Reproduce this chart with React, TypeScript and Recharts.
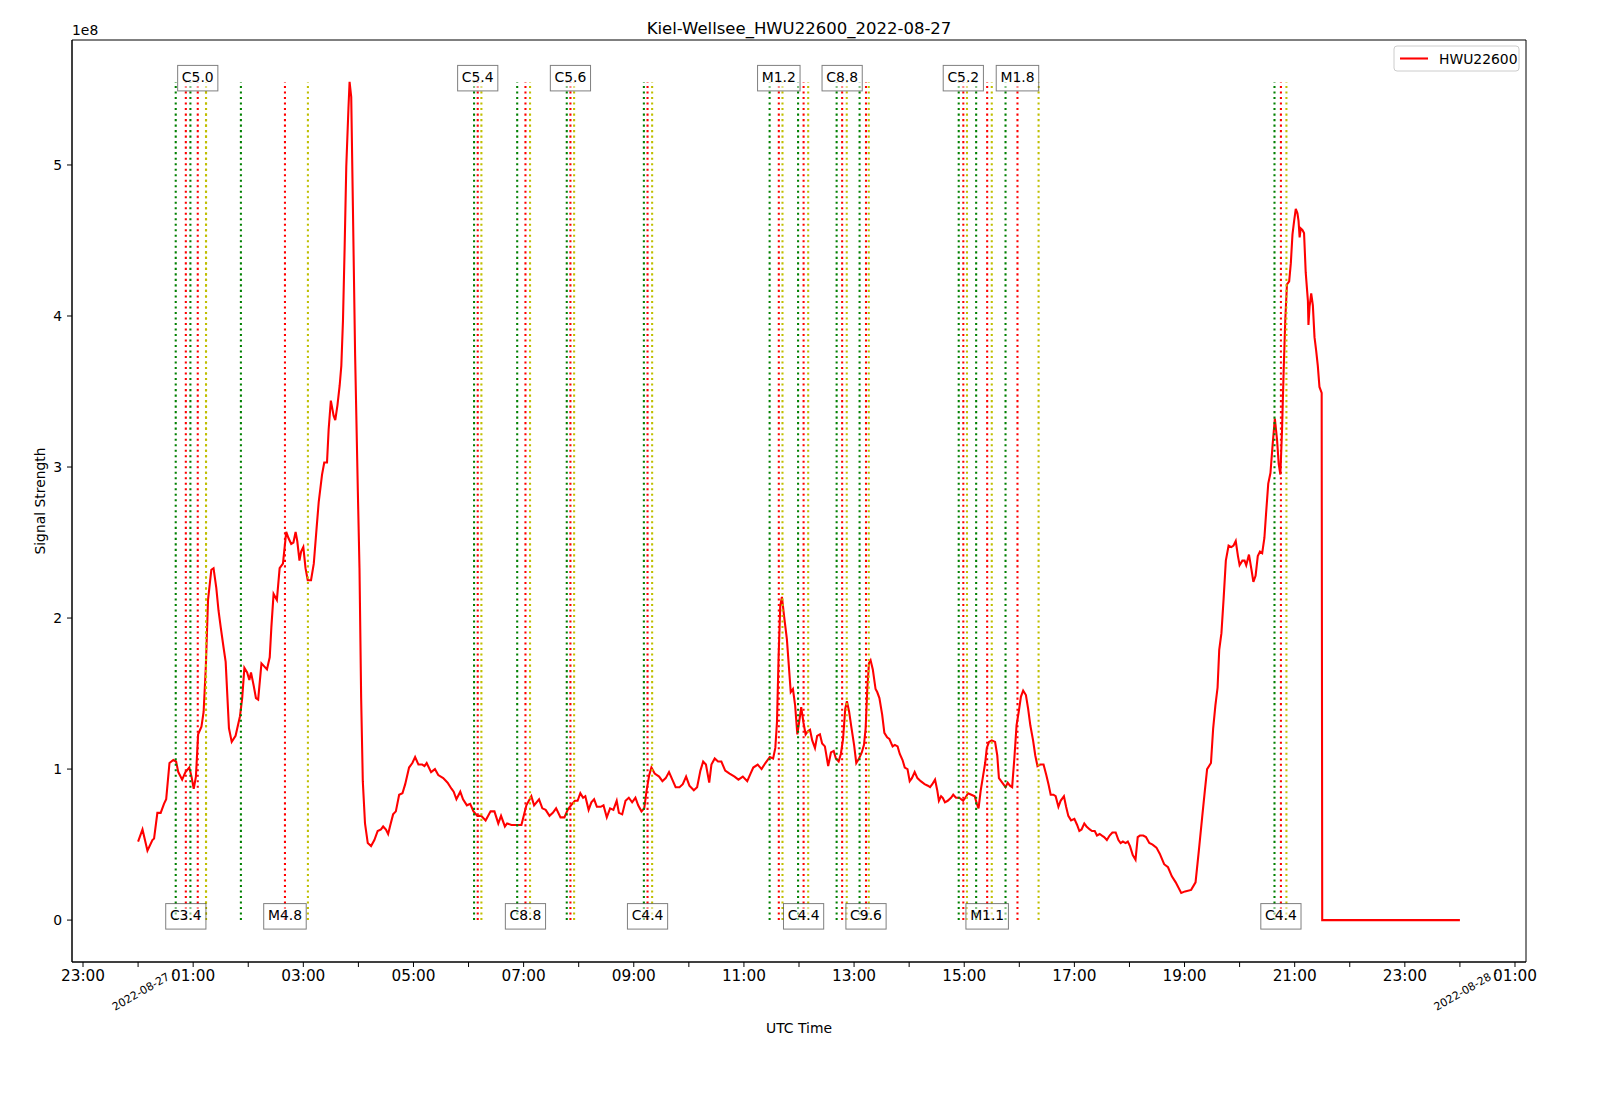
import {
  ComposedChart,
  Line,
  XAxis,
  YAxis,
  ReferenceLine,
  ReferenceDot,
  ReferenceArea,
} from 'recharts';

const FONT = '"DejaVu Sans", sans-serif';

// HWU22600 at Kiel-Wellsee, [hours after 2022-08-27 00:00 UTC, signal in 1e8]
const SIGNAL_NIGHT = [
  [0.0, 0.52], [0.08, 0.6], [0.17, 0.46], [0.26, 0.53], [0.29, 0.54], [0.35, 0.71], [0.41, 0.71],
  [0.47, 0.77], [0.51, 0.8], [0.57, 1.04], [0.64, 1.06], [0.69, 1.05], [0.73, 0.98], [0.8, 0.93],
  [0.86, 0.98], [0.93, 1.01], [0.97, 0.95], [1.01, 0.87], [1.05, 0.95], [1.09, 1.23], [1.15, 1.28],
  [1.19, 1.38], [1.23, 1.68], [1.27, 2.12], [1.33, 2.32], [1.37, 2.33], [1.42, 2.2], [1.46, 2.05],
  [1.5, 1.94], [1.55, 1.81], [1.59, 1.71], [1.65, 1.27], [1.7, 1.18], [1.77, 1.22], [1.85, 1.35],
  [1.89, 1.47], [1.93, 1.67], [1.98, 1.64], [2.02, 1.59], [2.05, 1.64], [2.1, 1.55], [2.14, 1.47],
  [2.18, 1.46], [2.24, 1.7], [2.29, 1.68], [2.34, 1.66], [2.39, 1.74], [2.42, 1.94], [2.46, 2.16],
  [2.52, 2.12], [2.57, 2.33], [2.63, 2.36], [2.65, 2.43], [2.69, 2.57], [2.73, 2.53], [2.78, 2.49],
  [2.82, 2.5], [2.86, 2.57], [2.89, 2.51], [2.93, 2.38], [2.96, 2.44], [3.0, 2.47], [3.04, 2.33],
  [3.08, 2.25], [3.14, 2.25], [3.19, 2.36], [3.24, 2.59], [3.28, 2.77], [3.34, 2.95], [3.38, 3.03],
  [3.43, 3.03], [3.46, 3.25], [3.5, 3.44], [3.55, 3.34], [3.58, 3.31], [3.62, 3.41], [3.66, 3.54],
  [3.69, 3.67], [3.72, 3.97], [3.75, 4.45], [3.78, 4.99], [3.82, 5.38], [3.84, 5.55], [3.87, 5.45],
  [3.9, 4.73], [3.94, 3.75], [3.99, 2.84], [4.02, 2.33], [4.05, 1.47], [4.08, 0.92], [4.12, 0.64],
  [4.17, 0.51], [4.23, 0.49], [4.29, 0.53], [4.35, 0.59], [4.41, 0.6],
];

const SIGNAL_MORNING = [
  [4.45, 0.62], [4.5, 0.6], [4.54, 0.57], [4.58, 0.63], [4.63, 0.7], [4.68, 0.72], [4.74, 0.83],
  [4.8, 0.84], [4.85, 0.9], [4.92, 1.01], [4.98, 1.04], [5.03, 1.08], [5.09, 1.03], [5.16, 1.03],
  [5.2, 1.02], [5.24, 1.04], [5.32, 0.98], [5.39, 1.0], [5.45, 0.96], [5.54, 0.94], [5.62, 0.91],
  [5.69, 0.87], [5.73, 0.85], [5.78, 0.8], [5.85, 0.85], [5.9, 0.8], [5.97, 0.76], [6.03, 0.77],
  [6.09, 0.72], [6.16, 0.69], [6.23, 0.69], [6.31, 0.66], [6.4, 0.72], [6.47, 0.72], [6.54, 0.64],
  [6.59, 0.69], [6.66, 0.62], [6.7, 0.64], [6.78, 0.63], [6.87, 0.63], [6.96, 0.63], [7.05, 0.76],
  [7.14, 0.82], [7.19, 0.76], [7.28, 0.8], [7.34, 0.74], [7.4, 0.73], [7.47, 0.69], [7.53, 0.71],
  [7.59, 0.74], [7.67, 0.68], [7.74, 0.68], [7.8, 0.73], [7.86, 0.76], [7.93, 0.79], [7.98, 0.79],
  [8.03, 0.84], [8.08, 0.81], [8.12, 0.82], [8.18, 0.73], [8.23, 0.78], [8.28, 0.8], [8.33, 0.75],
  [8.4, 0.75], [8.45, 0.76], [8.51, 0.68], [8.57, 0.74], [8.63, 0.73], [8.69, 0.79], [8.73, 0.71],
  [8.79, 0.7], [8.85, 0.79], [8.91, 0.81], [8.97, 0.78], [9.03, 0.81], [9.08, 0.76], [9.14, 0.72],
  [9.19, 0.74], [9.23, 0.85], [9.28, 0.96], [9.32, 1.01], [9.38, 0.97], [9.46, 0.95], [9.52, 0.92],
];

const SIGNAL_MIDDAY = [
  [9.58, 0.94], [9.64, 0.98], [9.7, 0.93], [9.76, 0.88], [9.83, 0.88], [9.89, 0.9], [9.95, 0.95],
  [10.01, 0.89], [10.09, 0.86], [10.15, 0.88], [10.21, 0.99], [10.26, 1.05], [10.31, 1.03],
  [10.37, 0.91], [10.41, 1.03], [10.47, 1.07], [10.53, 1.05], [10.59, 1.05], [10.66, 0.99],
  [10.74, 0.97], [10.83, 0.95], [10.9, 0.93], [10.98, 0.95], [11.06, 0.92], [11.12, 0.97],
  [11.17, 1.01], [11.25, 1.03], [11.32, 1.0], [11.39, 1.04], [11.47, 1.08], [11.53, 1.07],
  [11.57, 1.14], [11.6, 1.31], [11.63, 1.75], [11.66, 2.08], [11.69, 2.14], [11.73, 2.01],
  [11.78, 1.86], [11.82, 1.66], [11.85, 1.51], [11.89, 1.53], [11.93, 1.42], [11.97, 1.23],
  [12.01, 1.33], [12.04, 1.41], [12.08, 1.31], [12.12, 1.23], [12.16, 1.25], [12.2, 1.26],
  [12.24, 1.19], [12.29, 1.14], [12.33, 1.22], [12.38, 1.23], [12.42, 1.17], [12.47, 1.15],
  [12.53, 1.02], [12.58, 1.11], [12.63, 1.12], [12.67, 1.07], [12.72, 1.05], [12.76, 1.1],
  [12.8, 1.2], [12.84, 1.4], [12.87, 1.45], [12.91, 1.38], [12.95, 1.28], [13.0, 1.16],
  [13.04, 1.04], [13.09, 1.07], [13.14, 1.11], [13.18, 1.16], [13.21, 1.27], [13.24, 1.53],
  [13.27, 1.7], [13.3, 1.72], [13.34, 1.66], [13.39, 1.53], [13.42, 1.51], [13.46, 1.47],
  [13.51, 1.36], [13.55, 1.24], [13.6, 1.21], [13.64, 1.2], [13.7, 1.15], [13.74, 1.16],
  [13.79, 1.15], [13.83, 1.1], [13.88, 1.06], [13.92, 1.01], [13.97, 1.0], [14.01, 0.92],
  [14.05, 0.94], [14.1, 0.98], [14.15, 0.94], [14.21, 0.92],
];

const SIGNAL_AFTERNOON = [
  [14.28, 0.9], [14.34, 0.89], [14.38, 0.88], [14.42, 0.9], [14.47, 0.93], [14.51, 0.86],
  [14.54, 0.79], [14.58, 0.82], [14.61, 0.81], [14.65, 0.78], [14.7, 0.79], [14.76, 0.81],
  [14.8, 0.83], [14.85, 0.81], [14.91, 0.81], [14.98, 0.79], [15.02, 0.81], [15.07, 0.84],
  [15.13, 0.83], [15.19, 0.82], [15.23, 0.77], [15.26, 0.74], [15.3, 0.86], [15.34, 0.95],
  [15.38, 1.04], [15.41, 1.14], [15.45, 1.18], [15.5, 1.19], [15.56, 1.18], [15.6, 1.09],
  [15.63, 0.94], [15.67, 0.92], [15.71, 0.9], [15.75, 0.88], [15.79, 0.91], [15.83, 0.89],
  [15.87, 0.88], [15.91, 1.07], [15.95, 1.29], [15.99, 1.38], [16.03, 1.48], [16.07, 1.52],
  [16.12, 1.49], [16.16, 1.4], [16.2, 1.29], [16.25, 1.19], [16.29, 1.09], [16.33, 1.02],
  [16.38, 1.03], [16.44, 1.03], [16.49, 0.96], [16.53, 0.9], [16.57, 0.83], [16.62, 0.83],
  [16.66, 0.82], [16.71, 0.75], [16.75, 0.79], [16.81, 0.82], [16.85, 0.75], [16.89, 0.69],
  [16.94, 0.66], [17.0, 0.67], [17.05, 0.63], [17.09, 0.59], [17.13, 0.6], [17.18, 0.64],
  [17.22, 0.62], [17.28, 0.6], [17.32, 0.59], [17.37, 0.59], [17.41, 0.56], [17.46, 0.57],
  [17.5, 0.56], [17.54, 0.55], [17.59, 0.53], [17.64, 0.56], [17.69, 0.58], [17.75, 0.58],
  [17.8, 0.53], [17.84, 0.51], [17.88, 0.52], [17.93, 0.51], [17.97, 0.52], [18.01, 0.49],
  [18.06, 0.43], [18.11, 0.4], [18.15, 0.55], [18.19, 0.56], [18.25, 0.56], [18.3, 0.55],
  [18.36, 0.51],
];

const SIGNAL_EVENING = [
  [18.42, 0.5], [18.49, 0.48], [18.55, 0.44], [18.63, 0.37], [18.7, 0.35], [18.77, 0.29],
  [18.84, 0.25], [18.94, 0.18], [19.01, 0.19], [19.12, 0.2], [19.2, 0.25], [19.26, 0.46],
  [19.32, 0.68], [19.37, 0.86], [19.41, 1.0], [19.48, 1.04], [19.52, 1.27], [19.56, 1.42],
  [19.6, 1.54], [19.63, 1.79], [19.67, 1.9], [19.71, 2.13], [19.75, 2.38], [19.8, 2.48],
  [19.85, 2.47], [19.89, 2.48], [19.93, 2.51], [19.97, 2.41], [20.0, 2.35], [20.05, 2.38],
  [20.09, 2.38], [20.12, 2.35], [20.17, 2.42], [20.22, 2.31], [20.25, 2.24], [20.29, 2.28],
  [20.33, 2.41], [20.37, 2.44], [20.41, 2.43], [20.45, 2.53], [20.48, 2.69], [20.52, 2.89],
  [20.56, 2.96], [20.6, 3.15], [20.64, 3.32], [20.68, 3.18], [20.71, 3.02], [20.74, 2.95],
  [20.77, 3.24], [20.8, 3.64], [20.83, 3.98], [20.86, 4.21], [20.9, 4.23], [20.93, 4.35],
  [20.96, 4.54], [20.99, 4.63], [21.02, 4.71], [21.05, 4.68], [21.07, 4.63], [21.09, 4.52],
  [21.11, 4.58], [21.14, 4.57], [21.17, 4.55], [21.2, 4.29], [21.24, 4.1], [21.25, 3.94],
  [21.27, 4.06], [21.3, 4.15], [21.33, 4.07], [21.36, 3.86], [21.39, 3.77], [21.42, 3.67],
  [21.45, 3.53], [21.49, 3.49], [21.5, 0.0], [24.0, 0.0],
];

// flare list: class, start / peak / end (UTC)
const FLARE_CLASS = ['C3.4', 'C5.0', 'M4.8', 'C5.4', 'C8.8', 'C5.6', 'C4.4', 'M1.2', 'C4.4', 'C8.8', 'C9.6', 'C5.2', 'M1.1', 'M1.8', 'C4.4'];
const FLARE_START = ['00:41', '00:57', '01:52', '06:06', '06:53', '07:47', '09:11', '11:28', '11:59', '12:41', '13:06', '14:54', '15:13', '15:45', '20:38'];
const FLARE_PEAK = ['00:52', '01:05', '02:40', '06:10', '07:02', '07:51', '09:15', '11:38', '12:05', '12:47', '13:13', '14:59', '15:25', '15:58', '20:45'];
const FLARE_END = ['01:14', '01:14', '03:05', '06:14', '07:07', '07:55', '09:20', '11:42', '12:10', '12:52', '13:16', '15:03', '15:30', '16:21', '20:51'];

const X_TICKS = [-1, 0, 1, 2, 3, 4, 5, 6, 7, 8, 9, 10, 11, 12, 13, 14, 15, 16, 17, 18, 19, 20, 21, 22, 23, 24, 25];
const X_TICK_LABELS = [
  '23:00', '2022-08-27 -', '01:00', '', '03:00', '', '05:00', '', '07:00', '', '09:00', '', '11:00', '',
  '13:00', '', '15:00', '', '17:00', '', '19:00', '', '21:00', '', '23:00', '2022-08-28 -', '01:00',
];
const Y_TICKS = [0, 1, 2, 3, 4, 5];

const toHours = (s: string) => {
  const [h, m] = s.split(':').map(Number);
  return h + m / 60;
};

const data = [...SIGNAL_NIGHT, ...SIGNAL_MORNING, ...SIGNAL_MIDDAY, ...SIGNAL_AFTERNOON, ...SIGNAL_EVENING].map(
  ([h, v]) => ({ h, v })
);
const yMax = Math.max(...data.map((d) => d.v));
const yPad = yMax * 0.05;
const X_DOMAIN = [-1.2, 25.2];

const flares = FLARE_CLASS.map((cls, i) => ({
  cls,
  start: toHours(FLARE_START[i]),
  peak: toHours(FLARE_PEAK[i]),
  end: toHours(FLARE_END[i]),
  top: i % 2 === 1,
}));

// rough DejaVu Sans advance widths (em)
const CHAR_W: Record<string, number> = { C: 0.698, M: 0.863, '.': 0.318 };
const labelWidth = (s: string, size: number) =>
  s.split('').reduce((acc, c) => acc + (CHAR_W[c] ?? 0.636), 0) * size;

function FlareLabel(props: any) {
  const { cx, cy, text } = props;
  const w = labelWidth(text, 13.9) + 8.4;
  return (
    <g>
      <rect
        x={cx - w / 2}
        y={cy - 16.5}
        width={w}
        height={25.5}
        fill="#ffffff"
        fillOpacity={0.5}
        stroke="#000000"
        strokeOpacity={0.5}
        strokeWidth={1}
      />
      <text x={cx} y={cy} textAnchor="middle" fontSize={13.9} fontFamily={FONT} fill="#000">
        {text}
      </text>
    </g>
  );
}

function HourTick(props: any) {
  const { x, y, payload } = props;
  const label = X_TICK_LABELS[X_TICKS.indexOf(payload.value)];
  if (!label) return null;
  if (label.startsWith('2022')) {
    const cx = x + 6;
    const cy = y + 21;
    return (
      <text
        x={cx}
        y={cy}
        textAnchor="middle"
        dominantBaseline="central"
        transform={`rotate(-30 ${cx} ${cy})`}
        fontSize={11}
        fontFamily={FONT}
        fill="#000"
      >
        {label}
      </text>
    );
  }
  return (
    <text x={x} y={y + 12} textAnchor="middle" fontSize={15.3} fontFamily={FONT} fill="#000">
      {label}
    </text>
  );
}

const dash = '2.08 3.43';

export default function App() {
  return (
    <div style={{ position: 'absolute', left: 0, top: 0, width: 1600, height: 1102, background: '#fff' }}>
      <ComposedChart
        width={1600}
        height={1102}
        data={data}
        margin={{ top: 40, right: 74, bottom: 80, left: 12 }}
      >
        <XAxis
          dataKey="h"
          type="number"
          domain={X_DOMAIN}
          ticks={X_TICKS}
          interval={0}
          allowDataOverflow
          height={60}
          tickSize={5}
          tick={<HourTick />}
          axisLine={{ stroke: '#000' }}
          tickLine={{ stroke: '#000' }}
        />
        <YAxis
          type="number"
          domain={[-yPad, yMax + yPad]}
          ticks={Y_TICKS}
          allowDataOverflow
          width={60}
          tickSize={5}
          tickMargin={5}
          tick={{ fill: '#000', fontSize: 13.9, fontFamily: FONT }}
          axisLine={{ stroke: '#000' }}
          tickLine={{ stroke: '#000' }}
        />
        <ReferenceArea
          x1={X_DOMAIN[0]}
          x2={X_DOMAIN[1]}
          y1={-yPad}
          y2={yMax + yPad}
          fill="none"
          fillOpacity={0}
          stroke="#000"
          strokeWidth={1}
          ifOverflow="visible"
        />
        <Line
          dataKey="v"
          type="linear"
          stroke="#ff0000"
          strokeWidth={2.08}
          dot={false}
          isAnimationActive={false}
          name="HWU22600"
        />
        {flares.map((f, i) => (
          <ReferenceLine
            key={`s${i}`}
            segment={[{ x: f.start, y: 0 }, { x: f.start, y: yMax }]}
            stroke="#008000"
            strokeWidth={2.08}
            strokeDasharray={dash}
            ifOverflow="visible"
          />
        ))}
        {flares.map((f, i) => (
          <ReferenceLine
            key={`p${i}`}
            segment={[{ x: f.peak, y: 0 }, { x: f.peak, y: yMax }]}
            stroke="#ff0000"
            strokeWidth={2.08}
            strokeDasharray={dash}
            ifOverflow="visible"
          />
        ))}
        {flares.map((f, i) => (
          <ReferenceLine
            key={`e${i}`}
            segment={[{ x: f.end, y: 0 }, { x: f.end, y: yMax }]}
            stroke="#bfbf00"
            strokeWidth={2.08}
            strokeDasharray={dash}
            ifOverflow="visible"
          />
        ))}
        {flares.map((f, i) => (
          <ReferenceDot
            key={`l${i}`}
            x={f.peak}
            y={f.top ? yMax : 0}
            r={0}
            ifOverflow="visible"
            shape={(p: any) => <FlareLabel {...p} text={f.cls} />}
          />
        ))}
      </ComposedChart>
      <svg
        width={1600}
        height={1102}
        style={{ position: 'absolute', left: 0, top: 0, pointerEvents: 'none' }}
        fontFamily={FONT}
      >
        <text x={799} y={34} textAnchor="middle" fontSize={16.5} fill="#000">
          Kiel-Wellsee_HWU22600_2022-08-27
        </text>
        <text x={72} y={35} fontSize={13.9} fill="#000">
          1e8
        </text>
        <text x={45} y={501} textAnchor="middle" fontSize={13.9} fill="#000" transform="rotate(-90 45 501)">
          Signal Strength
        </text>
        <text x={799} y={1033} textAnchor="middle" fontSize={13.9} fill="#000">
          UTC Time
        </text>
        <g>
          <rect x={1394} y={46} width={125} height={25} rx={3} fill="#fff" fillOpacity={0.8} stroke="#cccccc" />
          <line x1={1400} y1={58.5} x2={1428} y2={58.5} stroke="#ff0000" strokeWidth={2.08} />
          <text x={1439} y={63.5} fontSize={13.9} fill="#000">
            HWU22600
          </text>
        </g>
      </svg>
    </div>
  );
}
